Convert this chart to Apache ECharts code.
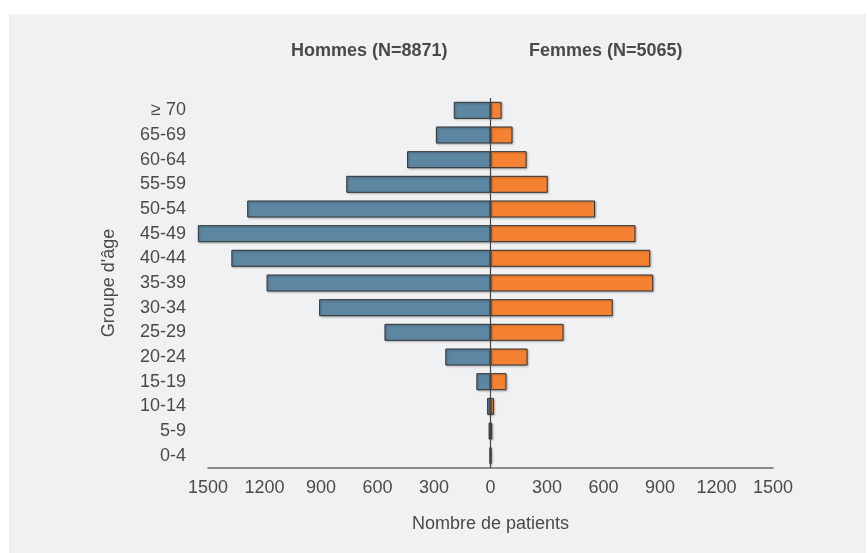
<!DOCTYPE html>
<html>
<head>
<meta charset="utf-8">
<script src="https://cdn.jsdelivr.net/npm/echarts@6/dist/echarts.min.js"></script>
<style>
html,body{margin:0;padding:0;background:#ffffff;}
#chart{width:868px;height:553px;}
</style>
</head>
<body>
<div id="chart"></div>
<script>
const categories = ['0-4','5-9','10-14','15-19','20-24','25-29','30-34','35-39','40-44','45-49','50-54','55-59','60-64','65-69','\u2265 70'];
const hommes = [5, 10, 18, 75, 240, 563, 910, 1189, 1376, 1554, 1292, 766, 443, 290, 195];
const femmes = [5, 9, 18, 85, 197, 388, 649, 864, 848, 770, 555, 304, 192, 117, 59];
const xTicks = { min: -1500, max: 1500, interval: 300 };
const headerLeft = 'Hommes (N=8871)';
const headerRight = 'Femmes (N=5065)';
const xName = 'Nombre de patients';
const yName = "Groupe d'\u00e2ge";

const FONT = '"Liberation Sans Narrow", "Liberation Sans", sans-serif';
const TXT = '#4a4a4a';
const FS = 18;

const chart = echarts.init(document.getElementById('chart'));
const barStyle = (c) => ({
  color: c,
  borderColor: '#333333',
  borderWidth: 1,
  shadowColor: 'rgba(0,0,0,0.25)',
  shadowBlur: 2,
  shadowOffsetX: 1,
  shadowOffsetY: 1
});
chart.setOption({
  animation: false,
  textStyle: { fontFamily: FONT },
  graphic: [
    { type: 'rect', z: -10, shape: { x: 9, y: 14, width: 857, height: 539 }, style: { fill: '#f0f1f3' } },
    { type: 'text', left: 291, top: 42, style: { text: headerLeft, font: 'bold 18px ' + FONT, fill: TXT } },
    { type: 'text', left: 529, top: 42, style: { text: headerRight, font: 'bold 18px ' + FONT, fill: TXT } }
  ],
  grid: { left: 208, right: 95, top: 98, bottom: 85, containLabel: false },
  xAxis: {
    type: 'value',
    min: xTicks.min, max: xTicks.max, interval: xTicks.interval,
    name: xName, nameLocation: 'middle', nameGap: 47,
    nameTextStyle: { fontSize: FS, color: TXT, fontFamily: FONT },
    axisLine: { show: true, onZero: false, lineStyle: { color: '#6a6a6a', width: 1.5 } },
    axisTick: { show: false },
    splitLine: { show: false },
    axisLabel: { fontSize: FS, color: TXT, margin: 11, fontFamily: FONT, formatter: v => String(Math.abs(v)) }
  },
  yAxis: {
    type: 'category',
    data: categories,
    name: yName, nameLocation: 'middle', nameGap: 90,
    nameTextStyle: { fontSize: FS, color: TXT, fontFamily: FONT },
    axisLine: { show: false },
    axisTick: { show: false },
    axisLabel: { interval: 0, fontSize: FS, color: TXT, margin: 22, fontFamily: FONT }
  },
  series: [
    {
      name: 'Hommes', type: 'bar', stack: 'p', barWidth: 17, clip: false,
      data: hommes.map(v => -v),
      itemStyle: barStyle('#5d86a2'),
      markLine: {
        silent: true, symbol: 'none', label: { show: false },
        lineStyle: { color: '#444444', width: 1.2, type: 'solid' },
        data: [{ xAxis: 0 }]
      }
    },
    {
      name: 'Femmes', type: 'bar', stack: 'p', barWidth: 17, clip: false,
      data: femmes,
      itemStyle: barStyle('#f58232')
    }
  ]
});
</script>
</body>
</html>
